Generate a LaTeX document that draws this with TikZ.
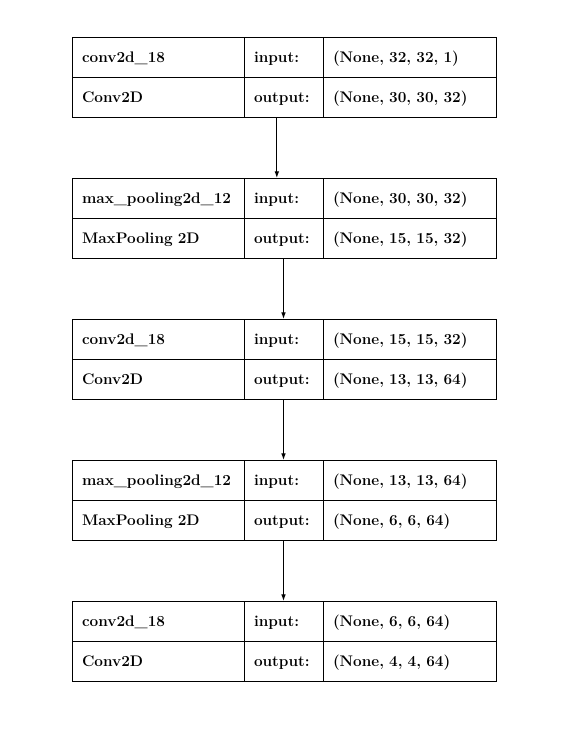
\documentclass[tikz,border=0pt]{standalone}
\usepackage{fontspec}
\usetikzlibrary{arrows.meta}
\begin{document}
\begin{tikzpicture}[x=0.75pt,y=-0.75pt,
    cell/.style={draw, line width=0.75pt, anchor=north west, outer sep=0pt,
      minimum height=30pt, inner xsep=7.5pt, inner ysep=0pt, align=left,
      text height=10.5pt, text depth=2.5pt, font=\fontsize{11.5}{14}\selectfont\bfseries},
    namecol/.style={cell, text width=114pt},
    labcol/.style={cell, text width=44.25pt},
    valcol/.style={cell, text width=114.75pt},
    flow/.style={line width=0.75pt, -{Latex[length=5pt,width=3.5pt]}}]
    \useasboundingbox (0,0) rectangle (562,746);
    % one block per layer
    \foreach \i/\y/\name/\kind/\vin/\vout in {
        1/37/conv2d\_18/Conv2D/{(None, 32, 32, 1)}/{(None, 30, 30, 32)},
        2/178/max\_pooling2d\_12/MaxPooling 2D/{(None, 30, 30, 32)}/{(None, 15, 15, 32)},
        3/319/conv2d\_18/Conv2D/{(None, 15, 15, 32)}/{(None, 13, 13, 64)},
        4/460/max\_pooling2d\_12/MaxPooling 2D/{(None, 13, 13, 64)}/{(None, 6, 6, 64)},
        5/601/conv2d\_18/Conv2D/{(None, 6, 6, 64)}/{(None, 4, 4, 64)}}{
      \node[namecol] (l\i-name) at (72,\y) {\name};
      \node[namecol] (l\i-kind) at (72,\y+40) {\kind};
      \node[labcol] (l\i-inlab) at (244,\y) {input:};
      \node[labcol] (l\i-outlab) at (244,\y+40) {output:};
      \node[valcol] (l\i-in) at (323,\y) {\vin};
      \node[valcol] (l\i-out) at (323,\y+40) {\vout};
    }
    % connectors
    \draw[flow] ([xshift=-5pt]l1-outlab.south) -- ([xshift=-5pt]l2-inlab.north);
    \foreach \a/\b in {2/3,3/4,4/5}
      \draw[flow] (l\a-outlab.south) -- (l\b-inlab.north);
\end{tikzpicture}
\end{document}
